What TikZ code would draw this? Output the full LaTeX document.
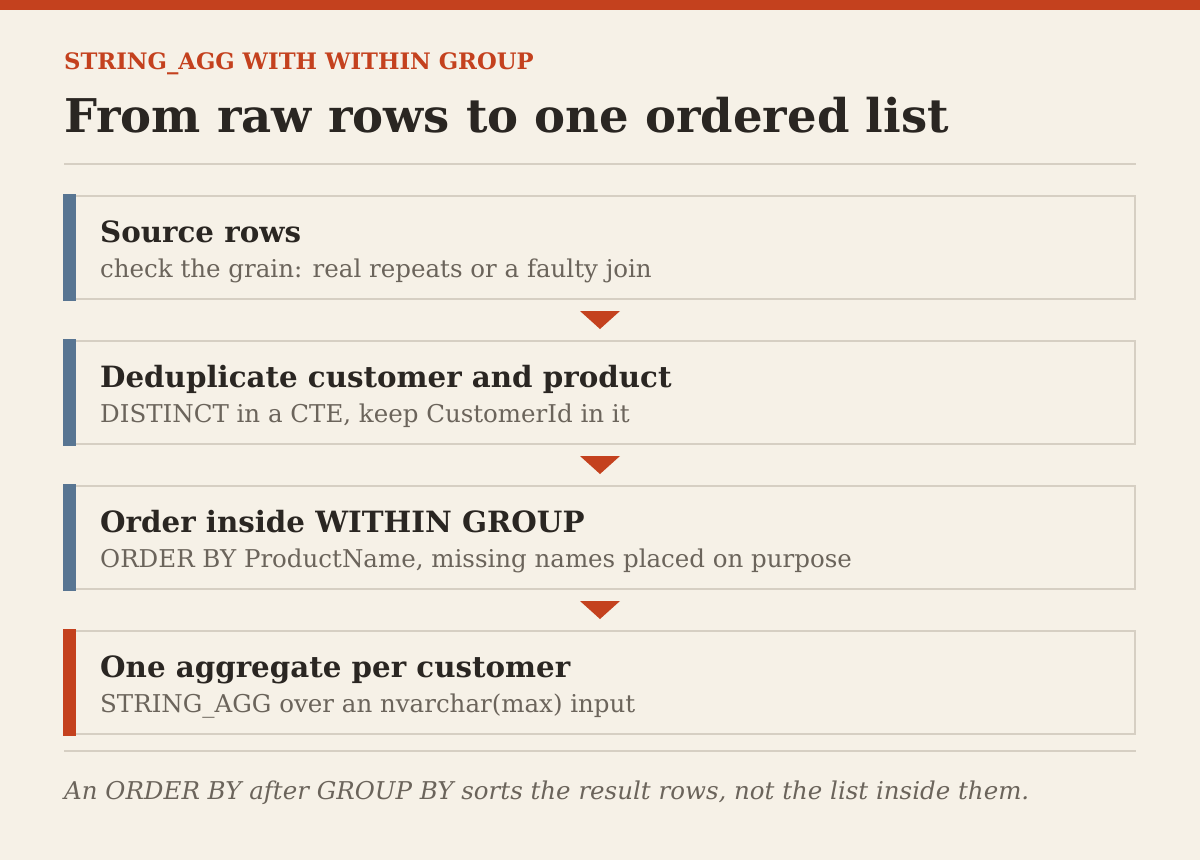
\documentclass[tikz,border=0pt]{standalone}
\usepackage{fontspec}
\setmainfont{DejaVu Serif}
\usetikzlibrary{calc}
\definecolor{paper}{HTML}{F6F1E7}
\definecolor{rust}{HTML}{C4411E}
\definecolor{ink}{HTML}{2A2622}
\definecolor{muted}{HTML}{6B645B}
\definecolor{rule}{HTML}{D6CFC3}
\definecolor{slate}{HTML}{587592}
\begin{document}
\begin{tikzpicture}[x=1pt,y=-1pt,
    card/.style={draw=rule,line width=2pt,minimum width=1070pt,minimum height=103pt,inner sep=0pt},
    head/.style={anchor=base west,inner sep=0pt,text=ink,font=\fontsize{29.3}{34}\selectfont\bfseries},
    sub/.style={anchor=base west,inner sep=0pt,text=muted,font=\fontsize{24.5}{28}\selectfont}]
  \fill[paper] (0,0) rectangle (1200,860);
  \useasboundingbox (0,0) rectangle (1200,860);
  \fill[rust] (0,0) rectangle (1200,10);
  \node[anchor=base west,inner sep=0pt,text=rust,font=\fontsize{22.7}{26}\selectfont\bfseries] (kicker) at (64,69) {STRING\_AGG WITH WITHIN GROUP};
  \node[anchor=base west,inner sep=0pt,text=ink,font=\fontsize{46.5}{52}\selectfont\bfseries] (title) at (64,132) {From raw rows to one ordered list};
  \draw[rule,line width=2pt] (64,164) -- (1136,164);
  \node[card] (src) at (600,247.5) {};
  \node[card] (dedup) at (600,392.5) {};
  \node[card] (order) at (600,537.5) {};
  \node[card] (agg) at (600,682.5) {};
  \fill[slate] ($(src.north west)+(-1,-1)$) rectangle ($(src.south west)+(12,1)$);
  \fill[slate] ($(dedup.north west)+(-1,-1)$) rectangle ($(dedup.south west)+(12,1)$);
  \fill[slate] ($(order.north west)+(-1,-1)$) rectangle ($(order.south west)+(12,1)$);
  \fill[rust] ($(agg.north west)+(-1,-1)$) rectangle ($(agg.south west)+(12,1)$);
  \node[head] (srchead) at (100,242) {Source rows};
  \node[sub] (srcsub) at (100,277) {check the grain: real repeats or a faulty join};
  \node[head] (deduphead) at (100,387) {Deduplicate customer and product};
  \node[sub] (dedupsub) at (100,422) {DISTINCT in a CTE, keep CustomerId in it};
  \node[head] (orderhead) at (100,532) {Order inside WITHIN GROUP};
  \node[sub] (ordersub) at (100,567) {ORDER BY ProductName, missing names placed on purpose};
  \node[head] (agghead) at (100,677) {One aggregate per customer};
  \node[sub] (aggsub) at (100,712) {STRING\_AGG over an nvarchar(max) input};
  \coordinate (t1) at ($(src.south)!.5!(dedup.north)$);
  \coordinate (t2) at ($(dedup.south)!.5!(order.north)$);
  \coordinate (t3) at ($(order.south)!.5!(agg.north)$);
  \fill[rust] ($(t1)+(-20,-9)$) -- ($(t1)+(20,-9)$) -- ($(t1)+(0,9)$) -- cycle;
  \fill[rust] ($(t2)+(-20,-9)$) -- ($(t2)+(20,-9)$) -- ($(t2)+(0,9)$) -- cycle;
  \fill[rust] ($(t3)+(-20,-9)$) -- ($(t3)+(20,-9)$) -- ($(t3)+(0,9)$) -- cycle;
  \draw[rule,line width=2pt] (64,751) -- (1136,751);
  \node[anchor=base west,inner sep=0pt,text=muted,font=\fontsize{24.5}{28}\selectfont\itshape] (note) at (64,799) {An ORDER BY after GROUP BY sorts the result rows, not the list inside them.};
\end{tikzpicture}
\end{document}
